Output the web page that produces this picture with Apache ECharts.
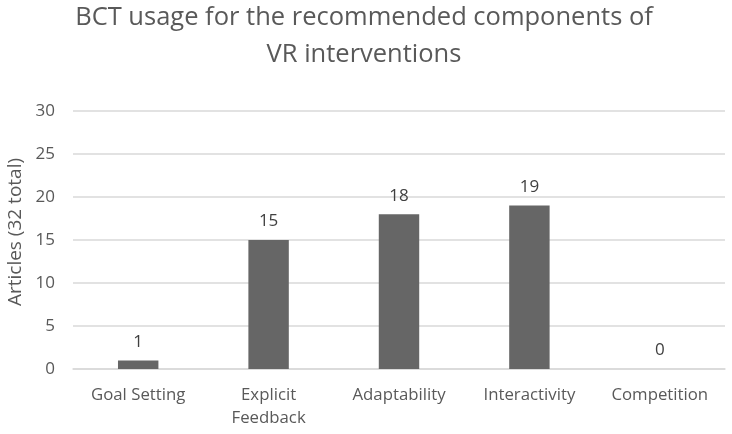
<!DOCTYPE html>
<html><head><meta charset="utf-8">
<script src="https://cdn.jsdelivr.net/npm/echarts@6/dist/echarts.min.js"></script>
<style>html,body{margin:0;padding:0;background:#fff}#c{width:732px;height:434px}</style>
</head><body><div id="c"></div>
<script>
var categories = ["Goal Setting", "Explicit\nFeedback", "Adaptability", "Interactivity", "Competition"];
var articles = [1, 15, 18, 19, 0];
var yTicks = {min: 0, max: 30, interval: 5};

var chart = echarts.init(document.getElementById('c'), null, {renderer: 'canvas'});
var font = '"Open Sans", "DejaVu Sans", sans-serif';
chart.setOption({
  animation: false,
  backgroundColor: '#fff',
  title: {
    text: 'BCT usage for the recommended components of\nVR interventions',
    left: 364, textAlign: 'center', top: -1, padding: 0,
    textStyle: {fontFamily: font, fontSize: 25.5, fontWeight: 'normal', color: '#595959', lineHeight: 37}
  },
  grid: {left: 73, right: 7, top: 111, bottom: 65, containLabel: false, outerBoundsMode: 'none'},
  xAxis: {
    type: 'category', data: categories,
    axisLine: {lineStyle: {color: '#d9d9d9', width: 1.5}},
    axisTick: {show: false},
    axisLabel: {fontFamily: font, fontSize: 16.8, color: '#595959', margin: 15, lineHeight: 23}
  },
  yAxis: {
    type: 'value', min: yTicks.min, max: yTicks.max, interval: yTicks.interval,
    name: 'Articles (32 total)', nameLocation: 'middle', nameGap: 41, nameRotate: 90,
    nameTextStyle: {fontFamily: font, fontSize: 19, color: '#595959', padding: [0, 0, 0, 16]},
    axisLine: {show: false}, axisTick: {show: false},
    axisLabel: {fontFamily: font, fontSize: 17, color: '#595959', margin: 18},
    splitLine: {lineStyle: {color: '#d9d9d9', width: 1.5}}
  },
  series: [{
    type: 'bar', data: articles, barWidth: '31%',
    itemStyle: {color: '#666666'},
    label: {show: true, position: 'top', distance: 10, fontFamily: font, fontSize: 17, color: '#404040'}
  }]
});
</script></body></html>
